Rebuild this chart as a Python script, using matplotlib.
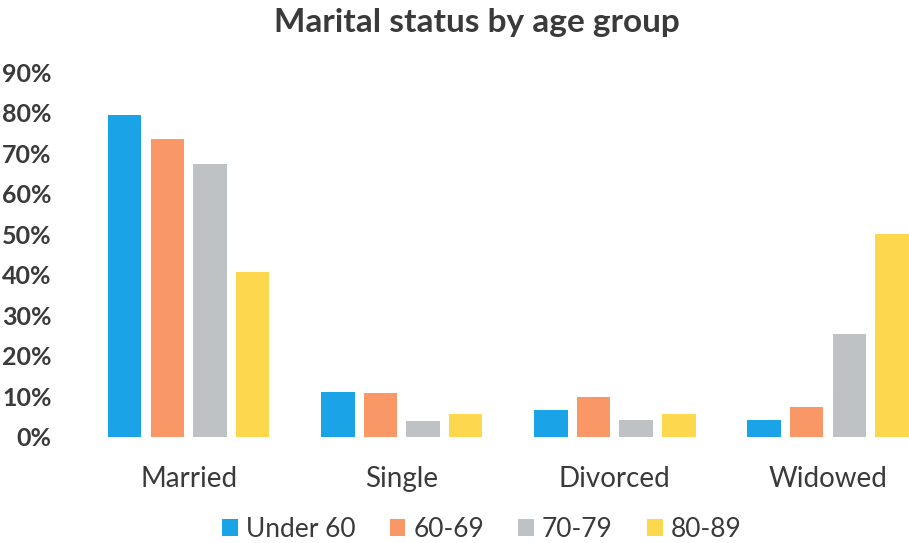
import numpy as np
import matplotlib
matplotlib.use('Agg')
import matplotlib.pyplot as plt
from matplotlib.ticker import FuncFormatter

categories = ['Married', 'Single', 'Divorced', 'Widowed']
series_names = ['Under 60', '60-69', '70-79', '80-89']
under_60 = [79.3, 11.0, 6.6, 4.2]
age_60_69 = [73.4, 10.9, 9.8, 7.3]
age_70_79 = [67.3, 4.0, 4.2, 25.5]
age_80_89 = [40.6, 5.6, 5.6, 50.0]
y_ticks = [0, 10, 20, 30, 40, 50, 60, 70, 80, 90]

colors = ['#1aa3e6', '#f99866', '#bfc2c5', '#fdd84e']
txt = '#3a3a3a'

plt.rcParams['font.family'] = ['Lato', 'DejaVu Sans']

fig = plt.figure(figsize=(9.09, 5.43), dpi=100)
ax = fig.add_axes([82/909, 106/543, 827/909, 365/543])

x = np.arange(len(categories))
width = 0.157
offsets = [-0.3, -0.1, 0.1, 0.3]
for vals, name, c, off in zip([under_60, age_60_69, age_70_79, age_80_89],
                              series_names, colors, offsets):
    ax.bar(x + off, vals, width, color=c, label=name)

ax.set_xlim(-0.5, 3.38)
ax.set_ylim(0, 90)
ax.set_yticks(y_ticks)
ax.yaxis.set_major_formatter(FuncFormatter(lambda v, p: '%d%%' % v))
ax.set_xticks(x)
ax.set_xticklabels(categories)
ax.tick_params(axis='y', length=0, pad=22, labelsize=18, labelcolor=txt)
ax.tick_params(axis='x', length=0, pad=21, labelsize=20, labelcolor=txt)
for lab in ax.get_yticklabels():
    lab.set_fontweight('bold')
for s in ax.spines.values():
    s.set_visible(False)

fig.text(0.525, 0.958, 'Marital status by age group', ha='center', va='center',
         fontsize=24, fontweight='bold', color=txt)

fig.legend(loc='center', bbox_to_anchor=(0.53, 0.025), ncol=4, frameon=False,
           fontsize=19, labelcolor=txt, handlelength=0.6, handleheight=0.6,
           handletextpad=0.3, columnspacing=1.3)

fig.savefig('out.png', dpi=100)
